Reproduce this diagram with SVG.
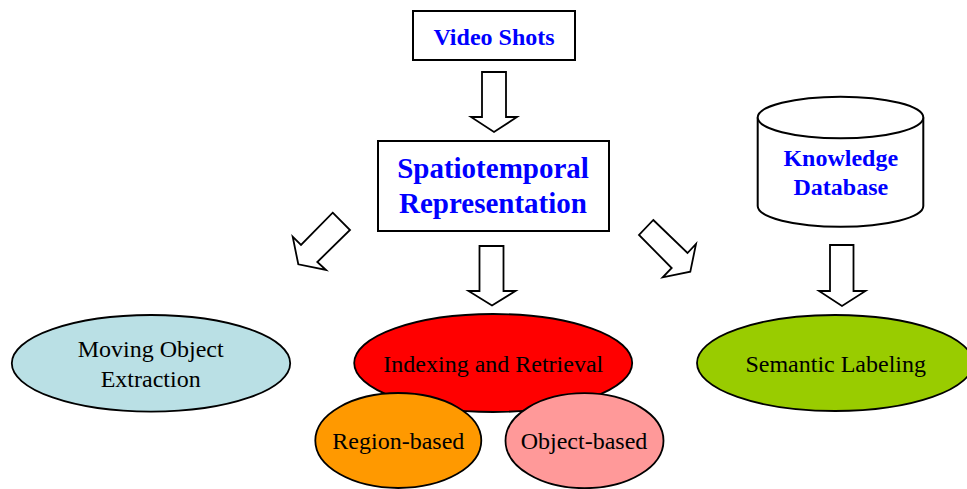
<svg xmlns="http://www.w3.org/2000/svg" width="967" height="489" viewBox="0 0 967 489">
<style>
.box{fill:#fff;stroke:#000;stroke-width:2}
.arrow{fill:#fff;stroke:#000;stroke-width:1.8;stroke-linejoin:miter}
.ell{stroke:#000;stroke-width:1.8}
.bt{font-family:"Liberation Serif","Times New Roman",serif;font-weight:bold;fill:#0000FF;text-anchor:middle}
.rt{font-family:"Liberation Serif","Times New Roman",serif;fill:#000;text-anchor:middle;font-size:24px}
</style>
<rect width="967" height="489" fill="#fff"/>
<g id="connectors">
<polygon class="arrow" points="482,72 506,72 506,117 517,117 494,132 471,117 482,117"/>
<polygon class="arrow" points="479.5,246 503.5,246 503.5,291 515.5,291 492,305.5 468.5,291 479.5,291"/>
<polygon class="arrow" points="830,245 853.5,245 853.5,291 865.5,291 842,306 819,291 830,291"/>
<polygon class="arrow" points="332.7,212.7 350,230 317.3,262 326,270 298.3,264.3 292.7,236.7 301,245"/>
<polygon class="arrow" points="653.3,220 687.5,253 696,244 690.3,271.7 662.7,277.3 671.7,268 639,235"/>
</g>
<g id="video-shots">
<rect class="box" x="413" y="11" width="162" height="49"/>
<text class="bt" x="494" y="45" font-size="24">Video Shots</text>
</g>
<g id="spatiotemporal">
<rect class="box" x="378" y="141" width="231" height="90"/>
<text class="bt" x="493" y="178" font-size="29">Spatiotemporal</text>
<text class="bt" x="493" y="213" font-size="29">Representation</text>
</g>
<g id="knowledge-db">
<path class="box" d="M757.7,117.5 L757.7,206 A82.8,20.8 0 0 0 923.3,206 L923.3,117.5"/>
<ellipse class="box" cx="840.5" cy="117.5" rx="82.8" ry="20.8"/>
<text class="bt" x="840.8" y="166" font-size="24">Knowledge</text>
<text class="bt" x="840.8" y="195" font-size="24">Database</text>
</g>
<g id="moving-object">
<ellipse class="ell" cx="151" cy="363.3" rx="139.2" ry="48.3" fill="#BAE0E5"/>
<text class="rt" x="150.7" y="356.7">Moving Object</text>
<text class="rt" x="150.7" y="387.3">Extraction</text>
</g>
<g id="indexing">
<ellipse class="ell" cx="493.2" cy="363" rx="139" ry="49" fill="#FF0000"/>
<text class="rt" x="493.3" y="371.7">Indexing and Retrieval</text>
</g>
<g id="region-based">
<ellipse class="ell" cx="398.3" cy="440.5" rx="83" ry="47.5" fill="#FF9900"/>
<text class="rt" x="398.3" y="449.3">Region-based</text>
</g>
<g id="object-based">
<ellipse class="ell" cx="584.5" cy="440.7" rx="79" ry="47.5" fill="#FF9999"/>
<text class="rt" x="584" y="449.3">Object-based</text>
</g>
<g id="semantic">
<ellipse class="ell" cx="835" cy="363" rx="138" ry="48" fill="#99CC00"/>
<text class="rt" x="835.7" y="371.7">Semantic Labeling</text>
</g>
</svg>
